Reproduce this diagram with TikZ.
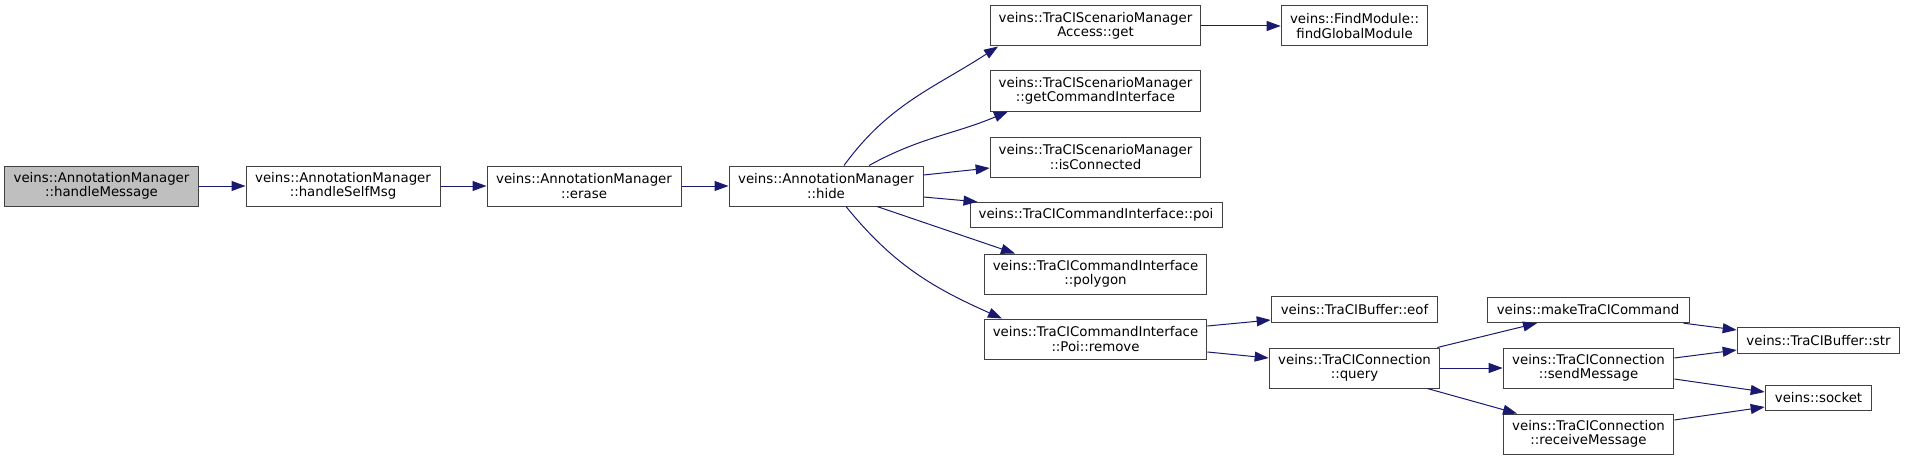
\documentclass[tikz,border=0pt]{standalone}
\usepackage{fontspec}
\setmainfont{DejaVu Sans}
\usepackage{tikz}
\usetikzlibrary{arrows.meta,calc}

\definecolor{edgeblue}{HTML}{191970}
\definecolor{boxgray}{HTML}{404040}
\definecolor{rootgray}{HTML}{BFBFBF}

\tikzset{
  fn/.style={draw=boxgray, fill=white, line width=0.75pt, inner sep=0pt,
    align=center, font=\fontsize{10}{10.7}\selectfont},
  two/.style={minimum height=30pt},
  one/.style={minimum height=19pt},
  call/.style={draw=edgeblue, line width=0.75pt,
    -{Triangle[length=10.5pt,width=7.5pt,fill=edgeblue]}}
}

\begin{document}
\begin{tikzpicture}[x=0.75pt, y=0.75pt]

  % canvas in pixels, y downwards as negative values
  \useasboundingbox (0,0) rectangle (1905,-460);

  % --- Caller chain ---
  \node[fn, two, fill=rootgray, minimum width=146pt] (handleMsg) at (101.5,-186)
    {veins::AnnotationManager\\::handleMessage};
  \node[fn, two, minimum width=145.5pt] (selfMsg) at (343,-186)
    {veins::AnnotationManager\\::handleSelfMsg};
  \node[fn, two, minimum width=145.5pt] (erase) at (584,-186)
    {veins::AnnotationManager\\::erase};
  \node[fn, two, minimum width=145.5pt] (hide) at (826,-186)
    {veins::AnnotationManager\\::hide};

  % --- Callees of hide ---
  \node[fn, two, minimum width=158pt] (access) at (1095.5,-26)
    {veins::TraCIScenarioManager\\Access::get};
  \node[fn, two, minimum width=110pt] (findGlobal) at (1354.5,-26)
    {veins::FindModule::\\findGlobalModule};
  \node[fn, two, minimum width=158pt] (getCmd) at (1095.5,-91)
    {veins::TraCIScenarioManager\\::getCommandInterface};
  \node[fn, two, minimum width=158pt] (isConn) at (1095.5,-157)
    {veins::TraCIScenarioManager\\::isConnected};
  \node[fn, one, minimum width=189pt] (poi) at (1096,-215)
    {veins::TraCICommandInterface::poi};
  \node[fn, two, minimum width=167pt] (polygon) at (1095.5,-274)
    {veins::TraCICommandInterface\\::polygon};
  \node[fn, two, minimum width=167pt] (remove) at (1095.5,-339)
    {veins::TraCICommandInterface\\::Poi::remove};

  % --- Callees of remove / query ---
  \node[fn, one, minimum width=125pt] (eof) at (1354.5,-309.5)
    {veins::TraCIBuffer::eof};
  \node[fn, two, minimum width=128pt] (query) at (1354.5,-368)
    {veins::TraCIConnection\\::query};
  \node[fn, one, minimum width=151.5pt] (make) at (1588,-310)
    {veins::makeTraCICommand};
  \node[fn, two, minimum width=128pt] (send) at (1588.5,-368)
    {veins::TraCIConnection\\::sendMessage};
  \node[fn, two, minimum width=128pt] (receive) at (1588.5,-434)
    {veins::TraCIConnection\\::receiveMessage};
  \node[fn, one, minimum width=122pt] (str) at (1818.5,-340.5)
    {veins::TraCIBuffer::str};
  \node[fn, one, minimum width=80pt] (socket) at (1818.5,-398)
    {veins::socket};

  % --- Calls ---
  \draw[call] (handleMsg) -- (selfMsg);
  \draw[call] (selfMsg) -- (erase);
  \draw[call] (erase) -- (hide);

  \draw[call] ($(hide.north)+(18,0)$) to[out=54,in=213] ($(access.south)+(-97.5,0)$);
  \draw[call] ($(hide.north)+(43,0)$) to[out=29,in=203] ($(getCmd.south)+(-87.5,0)$);
  \draw[call] ($(hide.east)+(0,11)$) -- ($(isConn.west)+(0,-11)$);
  \draw[call] ($(hide.east)+(0,-11)$) -- ($(poi.north west)+(8,0)$);
  \draw[call] ($(hide.south)+(51,0)$) -- ($(polygon.north)+(-80.5,0)$);
  \draw[call] ($(hide.south)+(20,0)$) to[out=-51,in=156] ($(remove.north)+(-93.5,0)$);
  \draw[call] (access) -- (findGlobal);

  \draw[call] ($(remove.east)+(0,13)$) -- ($(eof.west)+(0,-10.5)$);
  \draw[call] ($(remove.east)+(0,-13)$) -- ($(query.west)+(0,10)$);

  \draw[call] ($(query.north east)+(-3,0)$) -- ($(make.south)+(-51,0)$);
  \draw[call] (query) -- (send);
  \draw[call] ($(query.south east)+(-13,0)$) -- ($(receive.north)+(-71.5,0)$);

  \draw[call] ($(make.south east)+(-6,0)$) -- ($(str.west)+(0,10.5)$);
  \draw[call] ($(send.east)+(0,10)$) -- ($(str.west)+(0,-9.5)$);
  \draw[call] ($(send.east)+(0,-11)$) -- ($(socket.west)+(0,6)$);
  \draw[call] ($(receive.east)+(0,14)$) -- ($(socket.west)+(0,-9)$);
\end{tikzpicture}
\end{document}
